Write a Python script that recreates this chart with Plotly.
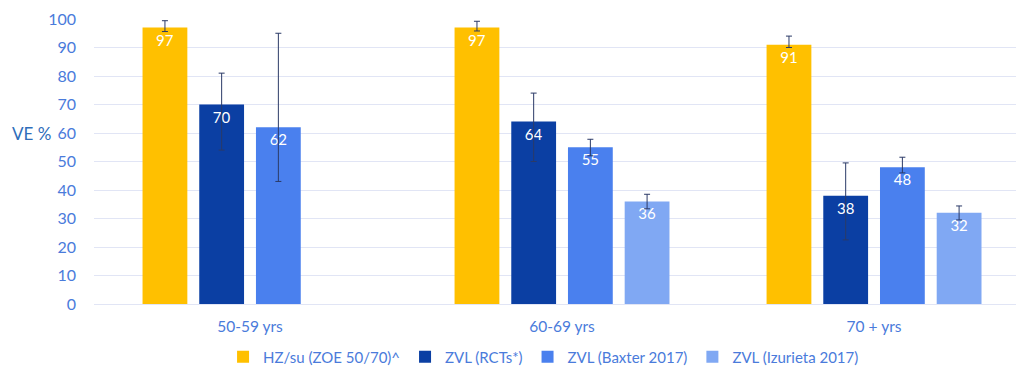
import plotly.graph_objects as go

# Vaccine efficacy by age group
age_groups = ["50-59 yrs", "60-69 yrs", "70 + yrs"]

series_names = [
    "HZ/su (ZOE 50/70)^",
    "ZVL (RCTs*)",
    "ZVL (Baxter 2017)",
    "ZVL (Izurieta 2017)",
]

hzsu_ve = [97, 97, 91]
hzsu_err_plus = [2.4, 2.2, 3.0]
hzsu_err_minus = [1.4, 1.2, 1.0]

zvl_rct_ve = [70, 64, 38]
zvl_rct_err_plus = [11, 10, 11.5]
zvl_rct_err_minus = [16, 14, 15.5]

zvl_baxter_ve = [62, 55, 48]
zvl_baxter_err_plus = [33, 2.8, 3.5]
zvl_baxter_err_minus = [19, 3.0, 2.0]

zvl_izurieta_ve = [None, 36, 32]
zvl_izurieta_err_plus = [0, 2.5, 2.4]
zvl_izurieta_err_minus = [0, 2.6, 2.5]

colors = ["#FFC000", "#0B3FA3", "#4A80EE", "#80A8F3"]

values = [hzsu_ve, zvl_rct_ve, zvl_baxter_ve, zvl_izurieta_ve]
err_plus = [hzsu_err_plus, zvl_rct_err_plus, zvl_baxter_err_plus, zvl_izurieta_err_plus]
err_minus = [hzsu_err_minus, zvl_rct_err_minus, zvl_baxter_err_minus, zvl_izurieta_err_minus]

font_family = "Lato, 'Open Sans', sans-serif"
tick_blue = "#4A7BDB"

fig = go.Figure()
for name, vals, ep, em, col in zip(series_names, values, err_plus, err_minus, colors):
    fig.add_trace(go.Bar(
        name=name,
        x=age_groups,
        y=vals,
        marker=dict(color=col, line=dict(width=0)),
        text=[("" if v is None else str(v)) for v in vals],
        textposition="inside",
        insidetextanchor="end",
        textangle=0,
        constraintext="none",
        textfont=dict(color="white", size=15, family=font_family),
        error_y=dict(
            type="data",
            symmetric=False,
            array=ep,
            arrayminus=em,
            color="#2B3A67",
            thickness=1,
            width=3,
        ),
        hoverinfo="skip",
    ))

fig.add_annotation(
    text="VE %",
    xref="paper", yref="y",
    x=0, y=60,
    xanchor="right", yanchor="middle",
    xshift=-41,
    showarrow=False,
    font=dict(size=17, color="#2F6DBA", family=font_family),
)

fig.update_layout(
    width=1016,
    height=370,
    margin=dict(l=94, r=0, t=19, b=66),
    paper_bgcolor="white",
    plot_bgcolor="white",
    barmode="group",
    bargap=0.273,
    bargroupgap=0.21,
    font=dict(family=font_family, color=tick_blue),
    showlegend=True,
    legend=dict(
        orientation="h",
        xref="container", yref="container",
        x=0.535, xanchor="center",
        y=0.035, yanchor="middle",
        font=dict(size=15, color=tick_blue, family=font_family),
        itemwidth=30,
        tracegroupgap=0,
        traceorder="normal",
    ),
    xaxis=dict(
        type="category",
        range=[-0.5, 2.455],
        showgrid=False,
        showline=False,
        ticks="",
        tickfont=dict(size=15.5, color=tick_blue, family=font_family),
        ticklabelstandoff=11,
    ),
    yaxis=dict(
        range=[0, 100],
        dtick=10,
        showgrid=True,
        gridcolor="#E1E5F5",
        gridwidth=1,
        zeroline=True,
        zerolinecolor="#E1E5F5",
        zerolinewidth=1,
        showline=False,
        ticks="",
        tickfont=dict(size=16, color=tick_blue, family=font_family),
        ticklabelstandoff=17,
    ),
)

fig.write_html("out.html")
